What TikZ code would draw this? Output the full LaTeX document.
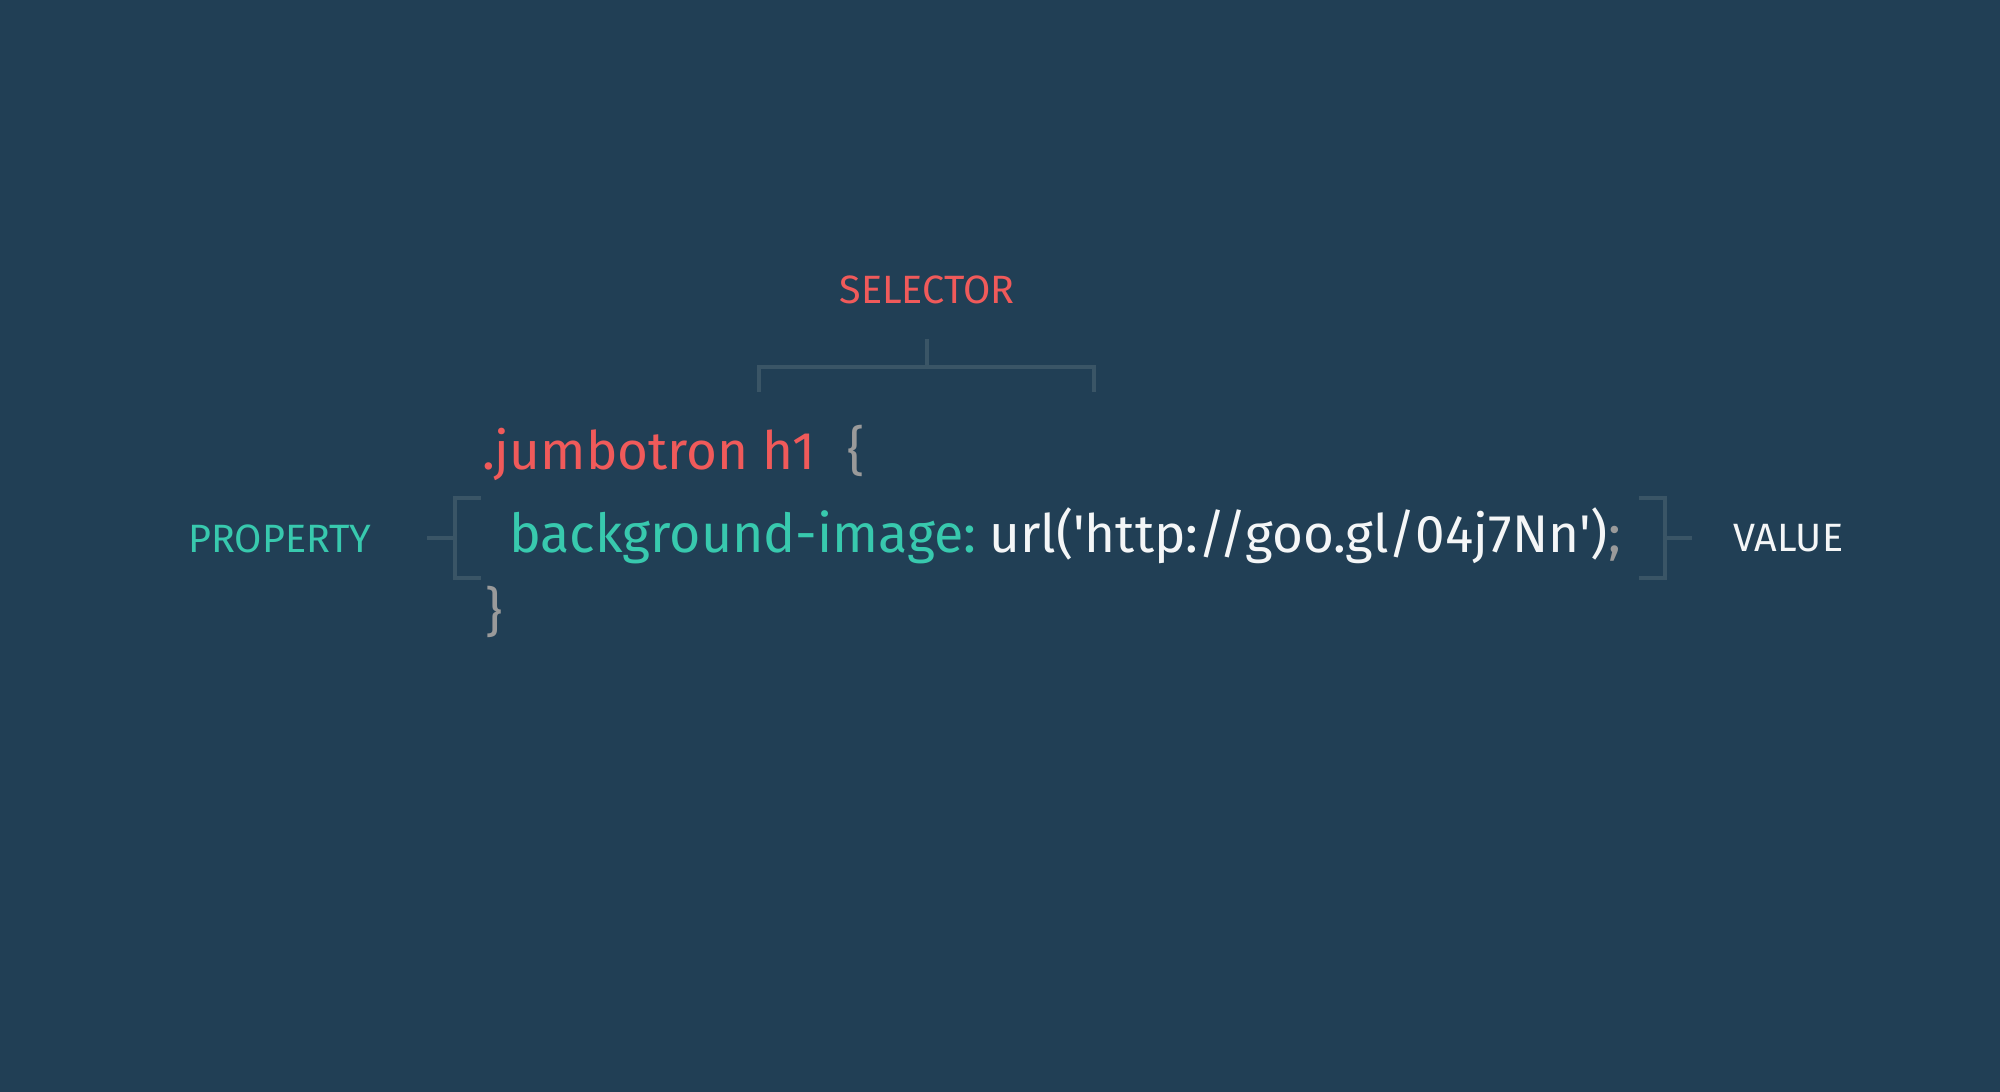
\documentclass[tikz,border=0pt]{standalone}
\usepackage{fontspec}
\setmainfont{Fira Sans}
\definecolor{bgc}{HTML}{213F55}
\definecolor{redc}{HTML}{F05A5A}
\definecolor{tealc}{HTML}{38C9AE}
\definecolor{brkc}{HTML}{3A5566}
\definecolor{grayc}{HTML}{9A9A9A}
\definecolor{whitec}{HTML}{F4F6F7}
\tikzset{
  brk/.style={draw=brkc, line width=4pt, line cap=butt},
  lbl/.style={inner sep=0pt, font=\fontsize{39.5}{44}\selectfont},
  code/.style={inner sep=0pt, font=\fontsize{53}{60}\selectfont}
}
\begin{document}
\begin{tikzpicture}[x=1pt,y=-1pt]
\fill[bgc] (0,0) rectangle (2000,1092);
\useasboundingbox (0,0) rectangle (2000,1092);
% labels
\node[lbl, text=redc, anchor=base] (sel) at (927,303) {SELECTOR};
\node[lbl, text=tealc, anchor=base west] (prop) at (188,552) {PROPERTY};
\node[lbl, text=whitec, anchor=base west] (val) at (1733,551) {VALUE};
% code
\node[code, text=redc, anchor=base west] (line1) at (482,469) {.jumbotron h1};
\node[code, text=grayc, anchor=base west] (ob) at (847,469) {\{};
\node[code, text=tealc, anchor=base west, font=\fontsize{53.7}{60}\selectfont] (prop2) at (509,552) {background-image:};
\node[code, anchor=base west] (val2) at (989,552) {\textcolor{whitec}{url(\textquotesingle http://goo.gl/04j7Nn\textquotesingle)}\textcolor{grayc}{;}};
\node[code, text=grayc, anchor=base west] (cb) at (485,630) {\}};
% brackets
\coordinate (selstem) at (927,339);
\coordinate (selmid) at (927,367);
\draw[brk] (selstem) -- (selmid);
\draw[brk] (759,392) -- (759,367) -- (1094,367) -- (1094,392);
\coordinate (ptip) at (427,538);
\coordinate (pmid) at (455,538);
\draw[brk] (481,498) -- (455,498) -- (455,578) -- (481,578);
\draw[brk] (ptip) -- (pmid);
\coordinate (vtip) at (1692,538);
\coordinate (vmid) at (1665,538);
\draw[brk] (1639,498) -- (1665,498) -- (1665,578) -- (1639,578);
\draw[brk] (vmid) -- (vtip);
\end{tikzpicture}
\end{document}
